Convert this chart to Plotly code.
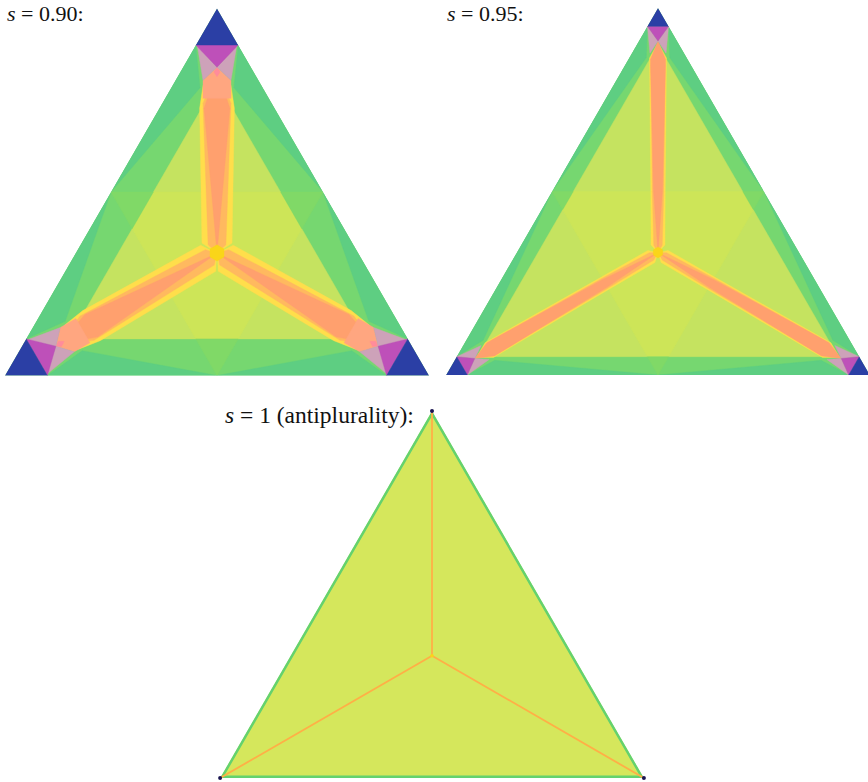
import plotly.graph_objects as go

W, H = 872, 782

# Colours
MEDIUM = "rgb(118,215,112)"
DARK = "rgb(94,206,130)"
INNER = "rgb(197,227,96)"
LIGHT = "rgb(205,229,88)"
WEDGE = "rgb(128,217,103)"
YELLOW = "rgb(255,222,75)"
LORANGE = "rgb(255,185,95)"
ORANGE = "rgb(255,160,110)"
PINK = "rgb(255,166,128)"
HOT = "rgb(255,140,155)"
GREY = "rgb(205,162,185)"
MAGENTA = "rgb(190,80,185)"
BLUE = "rgb(43,63,165)"
GOLD = "rgb(250,213,25)"
FLAT = "rgb(213,231,92)"
EDGE = "rgb(100,210,110)"
SPOKE = "rgb(255,175,70)"
DOT = "rgb(25,20,80)"

# Region outlines: a = share of the top vertex, d = c - b (right minus left share)
# s = 0.90
s90_dark_a = [0.9, 0.784, 0.5];              s90_dark_d = [-0.1, -0.08, -0.5]
s90_inner_a = [0.8, 0.1, 0.1];               s90_inner_d = [0, -0.7, 0.7]
s90_hex_a = [0.5, 0.5, 0.4, 0.1, 0.1, 0.4];  s90_hex_d = [-0.3, 0.3, 0.4, 0.1, -0.1, -0.4]
s90_wedge_a = [0, 0.1, 0.1];                 s90_wedge_d = [0, -0.1, 0.1]
s90_yellow_a = [0.826, 0.79, 0.728, 0.361, 0.334, 0.361, 0.728, 0.79]
s90_yellow_d = [0, -0.066, -0.082, -0.071, 0, 0.071, 0.082, 0.066]
s90_lorange_a = [0.832, 0.742, 0.356, 0.334, 0.356, 0.742]
s90_lorange_d = [0, -0.066, -0.042, 0, 0.042, 0.066]
s90_orange_a = [0.832, 0.728, 0.334, 0.728]
s90_orange_d = [0, -0.061, 0, 0.061]
s90_pink_a = [0.84, 0.804, 0.755, 0.755, 0.804]
s90_pink_d = [0, -0.066, -0.066, 0.066, 0.066]
s90_hot_a = [0.84, 0.827, 0.814, 0.827];     s90_hot_d = [0, -0.014, 0, 0.014]
s90_grey_a = [0.902, 0.84, 0.804];           s90_grey_d = [-0.094, 0, -0.066]
s90_magenta_a = [0.9, 0.9, 0.84];            s90_magenta_d = [-0.1, 0.1, 0]
s90_blue_a = [1, 0.9, 0.9];                  s90_blue_d = [0, -0.1, 0.1]
s90_gold_a = [0.356, 0.345, 0.323, 0.312, 0.323, 0.345]
s90_gold_d = [0, 0.033, 0.033, 0, -0.033, -0.033]

# s = 0.95
s95_dark_a = [0.95, 0.865, 0.5];             s95_dark_d = [-0.05, -0.055, -0.5]
s95_inner_a = [0.9, 0.05, 0.05];             s95_inner_d = [0, -0.85, 0.85]
s95_hex_a = [0.5, 0.5, 0.45, 0.05, 0.05, 0.45]
s95_hex_d = [-0.4, 0.4, 0.45, 0.05, -0.05, -0.45]
s95_wedge_a = [0, 0.05, 0.05];               s95_wedge_d = [0, -0.05, 0.05]
s95_yellow_a = [0.905, 0.864, 0.5, 0.354, 0.334, 0.354, 0.5, 0.864]
s95_yellow_d = [0, -0.04, -0.034, -0.033, 0, 0.033, 0.034, 0.04]
s95_lorange_a = [0.905, 0.845, 0.5, 0.354, 0.334, 0.354, 0.5, 0.845]
s95_lorange_d = [0, -0.034, -0.027, -0.02, 0, 0.02, 0.027, 0.034]
s95_orange_a = [0.91, 0.86, 0.5, 0.334, 0.5, 0.86]
s95_orange_d = [0, -0.036, -0.021, 0, 0.021, 0.036]
s95_grey_a = [0.95, 0.91, 0.877];            s95_grey_d = [-0.05, 0, -0.038]
s95_magenta_a = [0.95, 0.95, 0.91];          s95_magenta_d = [-0.05, 0.05, 0]
s95_blue_a = [1, 0.95, 0.95];                s95_blue_d = [0, -0.05, 0.05]
s95_gold_a = [0.349, 0.341, 0.327, 0.319, 0.327, 0.341]
s95_gold_d = [0, 0.022, 0.022, 0, -0.022, -0.022]

# s = 1
vertex_a = [1, 0, 0]; vertex_b = [0, 1, 0]; vertex_c = [0, 0, 1]
centre_share = 1 / 3

labels = ["<i>s</i> = 0.90:", "<i>s</i> = 0.95:", "<i>s</i> = 1 (antiplurality):"]
label_sizes = [22, 22, 23.5]


def abc(a_list, d_list):
    a = list(a_list)
    b = [(1 - p - q) / 2 for p, q in zip(a_list, d_list)]
    c = [(1 - p + q) / 2 for p, q in zip(a_list, d_list)]
    return a, b, c


def poly(fig, subplot, a, b, c, color):
    fig.add_trace(go.Scatterternary(
        a=a + a[:1], b=b + b[:1], c=c + c[:1], subplot=subplot,
        mode="lines", fill="toself", fillcolor=color,
        line=dict(color=color, width=0.4),
        hoverinfo="skip", showlegend=False))


def single(fig, subplot, a_list, d_list, color):
    poly(fig, subplot, *abc(a_list, d_list), color)


def around(fig, subplot, a_list, d_list, color, mirror=False):
    """Draw a region at all three vertices of the triangle."""
    signs = [1, -1] if mirror else [1]
    for sign in signs:
        a, b, c = abc(a_list, [sign * v for v in d_list])
        poly(fig, subplot, a, b, c, color)
        poly(fig, subplot, b, c, a, color)
        poly(fig, subplot, c, a, b, color)


fig = go.Figure()

# --- s = 0.90
sp = "ternary"
poly(fig, sp, vertex_a, vertex_b, vertex_c, MEDIUM)
around(fig, sp, s90_dark_a, s90_dark_d, DARK, mirror=True)
single(fig, sp, s90_inner_a, s90_inner_d, INNER)
single(fig, sp, s90_hex_a, s90_hex_d, LIGHT)
around(fig, sp, s90_wedge_a, s90_wedge_d, WEDGE)
around(fig, sp, s90_yellow_a, s90_yellow_d, YELLOW)
around(fig, sp, s90_lorange_a, s90_lorange_d, LORANGE)
around(fig, sp, s90_orange_a, s90_orange_d, ORANGE)
around(fig, sp, s90_pink_a, s90_pink_d, PINK)
around(fig, sp, s90_hot_a, s90_hot_d, HOT)
around(fig, sp, s90_grey_a, s90_grey_d, GREY, mirror=True)
around(fig, sp, s90_magenta_a, s90_magenta_d, MAGENTA)
around(fig, sp, s90_blue_a, s90_blue_d, BLUE)
single(fig, sp, s90_gold_a, s90_gold_d, GOLD)

# --- s = 0.95
sp = "ternary2"
poly(fig, sp, vertex_a, vertex_b, vertex_c, MEDIUM)
around(fig, sp, s95_dark_a, s95_dark_d, DARK, mirror=True)
single(fig, sp, s95_inner_a, s95_inner_d, INNER)
single(fig, sp, s95_hex_a, s95_hex_d, LIGHT)
around(fig, sp, s95_wedge_a, s95_wedge_d, WEDGE)
around(fig, sp, s95_yellow_a, s95_yellow_d, YELLOW)
around(fig, sp, s95_lorange_a, s95_lorange_d, LORANGE)
around(fig, sp, s95_orange_a, s95_orange_d, ORANGE)
around(fig, sp, s95_grey_a, s95_grey_d, GREY, mirror=True)
around(fig, sp, s95_magenta_a, s95_magenta_d, MAGENTA)
around(fig, sp, s95_blue_a, s95_blue_d, BLUE)
single(fig, sp, s95_gold_a, s95_gold_d, GOLD)

# --- s = 1
sp = "ternary3"
fig.add_trace(go.Scatterternary(
    a=vertex_a + vertex_a[:1], b=vertex_b + vertex_b[:1], c=vertex_c + vertex_c[:1],
    subplot=sp, mode="lines", fill="toself", fillcolor=FLAT,
    line=dict(color=EDGE, width=5), hoverinfo="skip", showlegend=False))
for va, vb, vc in zip(vertex_a, vertex_b, vertex_c):
    fig.add_trace(go.Scatterternary(
        a=[centre_share, va], b=[centre_share, vb], c=[centre_share, vc],
        subplot=sp, mode="lines", line=dict(color=SPOKE, width=1.8),
        hoverinfo="skip", showlegend=False))
fig.add_trace(go.Scatterternary(
    a=[centre_share], b=[centre_share], c=[centre_share], subplot=sp, mode="markers",
    marker=dict(color=GOLD, size=3.5), hoverinfo="skip", showlegend=False))
fig.add_trace(go.Scatterternary(
    a=vertex_a, b=vertex_b, c=vertex_c, subplot=sp, mode="markers", cliponaxis=False,
    marker=dict(color=DOT, size=4), hoverinfo="skip", showlegend=False))

hidden = dict(showticklabels=False, showgrid=False, showline=False, ticks="", title=dict(text=""))


def ternary(x0, x1, y_top, y_bottom):
    return dict(
        domain=dict(x=[x0 / W, x1 / W], y=[1 - y_bottom / H, 1 - y_top / H]),
        sum=1, bgcolor="rgba(0,0,0,0)",
        aaxis=hidden, baxis=hidden, caxis=hidden)


label_pos = [(5, 14), (445, 14), (223, 415)]
annotations = [
    dict(text=t, xref="paper", yref="paper", x=px / W, y=1 - py / H,
         xanchor="left", yanchor="middle", showarrow=False,
         font=dict(family="Liberation Serif", size=sz, color="#111111"))
    for t, (px, py), sz in zip(labels, label_pos, label_sizes)]

fig.update_layout(
    width=W, height=H, margin=dict(l=0, r=0, t=0, b=0, pad=0),
    paper_bgcolor="white", plot_bgcolor="white", showlegend=False,
    ternary=ternary(5, 429, 8, 376),
    ternary2=ternary(446, 870, 8, 375),
    ternary3=ternary(220, 644, 411, 778),
    annotations=annotations)

fig.write_html("out.html", config=dict(displayModeBar=False),
               post_script="document.body.style.margin='0';document.body.style.overflow='hidden';")
